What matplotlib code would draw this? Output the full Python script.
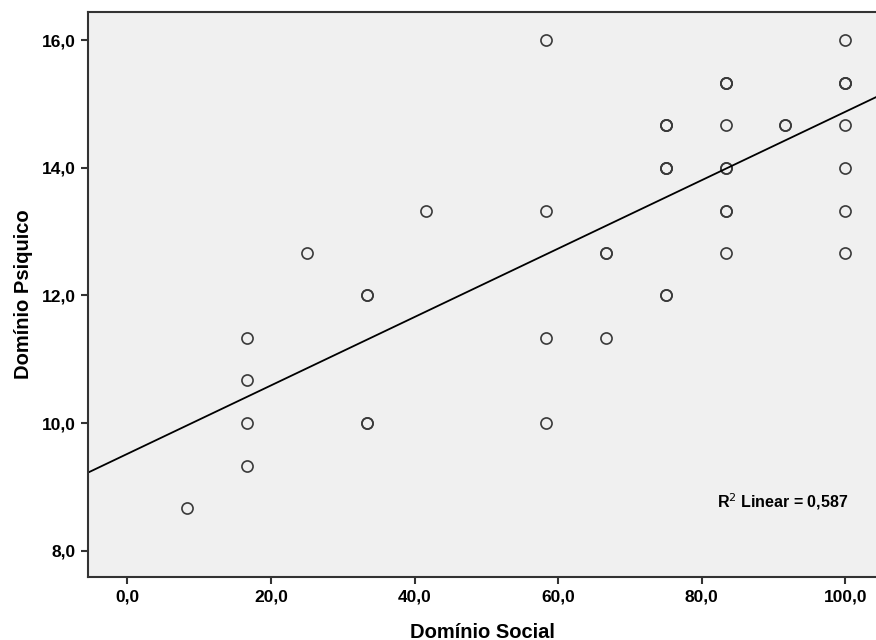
import numpy as np
import matplotlib
matplotlib.use('Agg')
import matplotlib.pyplot as plt

plt.rcParams['font.family'] = ['Liberation Sans', 'DejaVu Sans']

# Domínio Social (x) e Domínio Psiquico (y); pontos repetidos aparecem mais escuros
social = [8.33,
          16.67, 16.67, 16.67, 16.67,
          25.0,
          33.33, 33.33, 33.33, 33.33,
          41.67,
          58.33, 58.33, 58.33, 58.33,
          66.67, 66.67, 66.67,
          75.0, 75.0, 75.0, 75.0, 75.0, 75.0, 75.0, 75.0,
          83.33, 83.33, 83.33, 83.33, 83.33, 83.33, 83.33, 83.33, 83.33,
          91.67, 91.67,
          100.0, 100.0, 100.0, 100.0, 100.0, 100.0, 100.0, 100.0]
psiquico = [8.67,
            9.33, 10.0, 10.67, 11.33,
            12.67,
            10.0, 10.0, 12.0, 12.0,
            13.33,
            10.0, 11.33, 13.33, 16.0,
            11.33, 12.67, 12.67,
            12.0, 12.0, 14.0, 14.0, 14.0, 14.67, 14.67, 14.67,
            12.67, 13.33, 13.33, 14.0, 14.0, 14.67, 15.33, 15.33, 15.33,
            14.67, 14.67,
            12.67, 13.33, 14.0, 14.67, 15.33, 15.33, 15.33, 16.0]

xticks = [0, 20, 40, 60, 80, 100]
yticks = [8, 10, 12, 14, 16]

fig = plt.figure(figsize=(8.76, 6.4), dpi=100)
ax = fig.add_axes([0.1005, 0.0984, 0.9, 0.8828])
ax.set_facecolor('#f0f0f0')

ax.plot(social, psiquico, linestyle='none', marker='o', markersize=8,
        markerfacecolor='none', markeredgecolor='#3a3a3a', markeredgewidth=1.2)

slope, intercept = np.polyfit(social, psiquico, 1)
xlim = (-5.48, 104.35)
xs = np.array(xlim)
ax.plot(xs, slope * xs + intercept, color='black', linewidth=1.3)

ax.set_xlim(*xlim)
ax.set_ylim(7.59, 16.44)
ax.set_xticks(xticks)
ax.set_xticklabels([f'{v:.1f}'.replace('.', ',') for v in xticks])
ax.set_yticks(yticks)
ax.set_yticklabels([f'{v:.1f}'.replace('.', ',') for v in yticks])

for lab in ax.get_xticklabels() + ax.get_yticklabels():
    lab.set_fontweight('bold')
    lab.set_fontsize(12.5)
ax.tick_params(direction='out', length=5, width=1.5, color='#333333', pad=4)

for side in ['left', 'bottom', 'top']:
    ax.spines[side].set_linewidth(1.5)
    ax.spines[side].set_color('#333333')
ax.spines['right'].set_visible(False)

ax.set_xlabel('Domínio Social', fontsize=14.5, fontweight='bold', labelpad=13)
ax.set_ylabel('Domínio Psiquico', fontsize=14.5, fontweight='bold', labelpad=6)

ax.text(0.798, 0.133, r'R$^2$ Linear = 0,587', transform=ax.transAxes,
        fontsize=11.5, fontweight='bold', ha='left', va='center')

fig.savefig('out.png', dpi=100)
